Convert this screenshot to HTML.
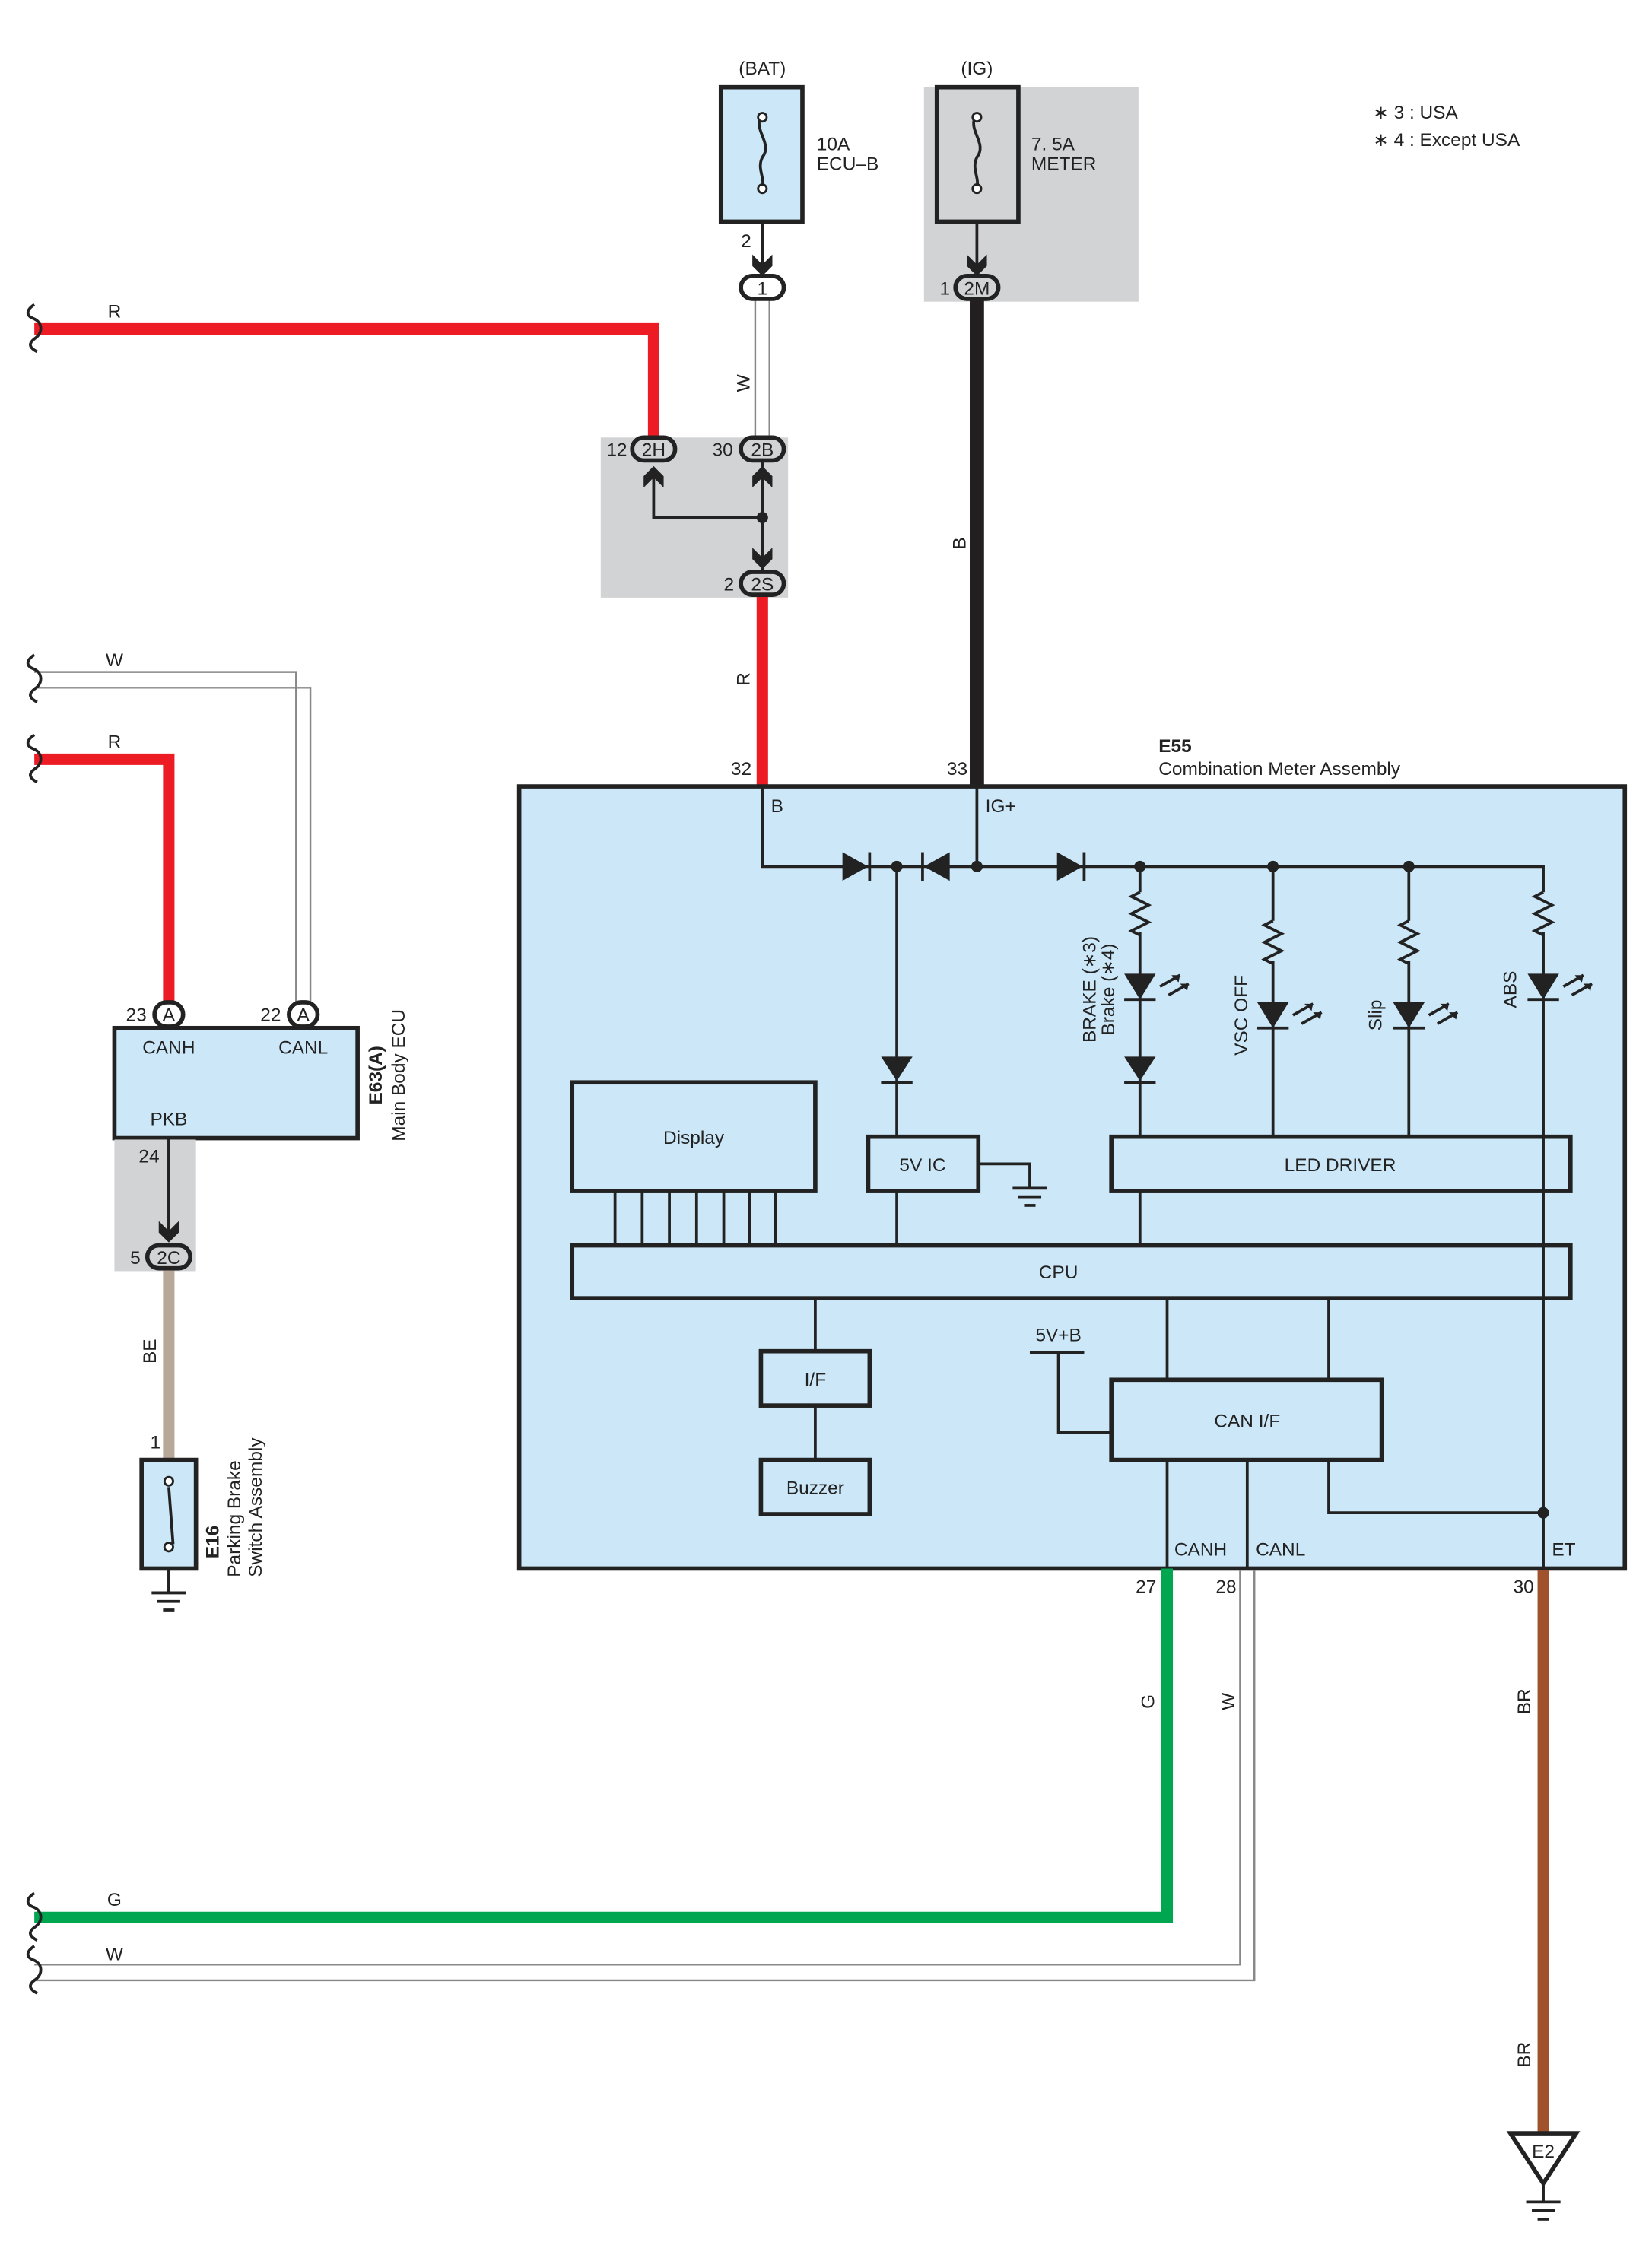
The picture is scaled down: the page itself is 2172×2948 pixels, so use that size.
<!DOCTYPE html>
<html><head><meta charset="utf-8"><style>
html,body{margin:0;padding:0;background:#fff}
svg{display:block}
text{font-family:"Liberation Sans",sans-serif;font-size:13px;fill:#222}
</style></head><body>
<svg width="2172" height="2948" viewBox="0 0 1155 1568" preserveAspectRatio="none" xmlns="http://www.w3.org/2000/svg">
<defs>
<g id="gnd"><line x1="-12" y1="0" x2="12" y2="0" stroke="#222" stroke-width="2"/><line x1="-8" y1="6" x2="8" y2="6" stroke="#222" stroke-width="2"/><line x1="-4" y1="12" x2="4" y2="12" stroke="#222" stroke-width="2"/></g>
<g id="ledR"><path d="M0,-28 l-6,3 l12,6 l-12,6 l12,6 l-12,6 l6,3" fill="none" stroke="#222" stroke-width="2"/></g>
<g id="led"><polygon points="-11,-9 11,-9 0,9" fill="#222"/><line x1="-11" y1="9" x2="11" y2="9" stroke="#222" stroke-width="2"/><path d="M14,0 l14,-8 M20,6 l14,-8" stroke="#222" stroke-width="2"/><polygon points="28,-8 22,-8 27,-3" fill="#222"/><polygon points="34,-2 28,-2 33,3" fill="#222"/></g>
<g id="wave"><path d="M0,-17 c-6,4 -6,8 0,10 c6,3 6,10 0,14 c-4,3 -4,6 2,9" fill="none" stroke="#222" stroke-width="2"/></g>
</defs>

<text x="960" y="83">∗ 3 : USA</text>
<text x="960" y="102">∗ 4 : Except USA</text>

<text x="533" y="52" text-anchor="middle">(BAT)</text>
<rect x="504" y="61" width="57" height="94" fill="#cce8f8" stroke="#222" stroke-width="3"/>
<path d="M533,80 c-8,10 8,20 0,30 c-4,8 2,14 0,22" fill="none" stroke="#222" stroke-width="2"/>
<circle cx="533" cy="82" r="3" fill="#fff" stroke="#222" stroke-width="1.5"/><circle cx="533" cy="132" r="3" fill="#fff" stroke="#222" stroke-width="1.5"/>
<text x="571" y="105">10A</text><text x="571" y="119">ECU–B</text>
<line x1="533" y1="155" x2="533" y2="192" stroke="#222" stroke-width="2"/>
<text x="518" y="173">2</text>
<path d="M526,178 l7,7 l7,-7 l0,8 l-7,7 l-7,-7z" fill="#222"/>
<line x1="528" y1="208" x2="528" y2="306" stroke="#888" stroke-width="1.3"/><line x1="538" y1="208" x2="538" y2="306" stroke="#888" stroke-width="1.3"/>
<rect x="518" y="193" width="30" height="16" rx="8" fill="#fff" stroke="#222" stroke-width="3"/>
<text x="533" y="206" text-anchor="middle">1</text>
<text transform="translate(524,268) rotate(-90)" text-anchor="middle">W</text>

<rect x="646" y="61" width="150" height="150" fill="#d2d3d5"/>
<text x="683" y="52" text-anchor="middle">(IG)</text>
<rect x="655" y="61" width="57" height="94" fill="#d2d3d5" stroke="#222" stroke-width="3"/>
<path d="M683,80 c-8,10 8,20 0,30 c-4,8 2,14 0,22" fill="none" stroke="#222" stroke-width="2"/>
<circle cx="683" cy="82" r="3" fill="#fff" stroke="#222" stroke-width="1.5"/><circle cx="683" cy="132" r="3" fill="#fff" stroke="#222" stroke-width="1.5"/>
<text x="721" y="105">7. 5A</text><text x="721" y="119">METER</text>
<line x1="683" y1="155" x2="683" y2="192" stroke="#222" stroke-width="2"/>
<path d="M676,178 l7,7 l7,-7 l0,8 l-7,7 l-7,-7z" fill="#222"/>
<line x1="683" y1="209" x2="683" y2="550" stroke="#231f20" stroke-width="10"/>
<rect x="668" y="193" width="30" height="16" rx="8" fill="#d2d3d5" stroke="#222" stroke-width="3"/>
<text x="683" y="206" text-anchor="middle">2M</text>
<text x="657" y="206">1</text>
<text transform="translate(675,380) rotate(-90)" text-anchor="middle">B</text>

<polyline points="24,230 457,230 457,306" fill="none" stroke="#ed1c24" stroke-width="8"/>
<use href="#wave" x="24" y="230"/>
<text x="80" y="222" text-anchor="middle">R</text>

<rect x="420" y="306" width="131" height="112" fill="#d2d3d5"/>
<polyline points="457,330 457,362 533,362" fill="none" stroke="#222" stroke-width="2"/>
<line x1="533" y1="320" x2="533" y2="400" stroke="#222" stroke-width="2"/>
<circle cx="533" cy="362" r="4" fill="#222"/>
<path d="M450,341 l7,-7 l7,7 l0,-8 l-7,-7 l-7,7z" fill="#222"/>
<path d="M526,341 l7,-7 l7,7 l0,-8 l-7,-7 l-7,7z" fill="#222"/>
<path d="M526,383 l7,7 l7,-7 l0,8 l-7,7 l-7,-7z" fill="#222"/>
<rect x="442" y="306" width="30" height="16" rx="8" fill="#d2d3d5" stroke="#222" stroke-width="3"/><text x="457" y="319" text-anchor="middle">2H</text>
<rect x="518" y="306" width="30" height="16" rx="8" fill="#d2d3d5" stroke="#222" stroke-width="3"/><text x="533" y="319" text-anchor="middle">2B</text>
<line x1="533" y1="416" x2="533" y2="550" stroke="#ed1c24" stroke-width="8"/>
<rect x="518" y="400" width="30" height="16" rx="8" fill="#d2d3d5" stroke="#222" stroke-width="3"/><text x="533" y="413" text-anchor="middle">2S</text>
<text x="424" y="319">12</text><text x="498" y="319">30</text><text x="506" y="413">2</text>
<text transform="translate(524,475) rotate(-90)" text-anchor="middle">R</text>
<text x="511" y="542">32</text><text x="662" y="542">33</text>
<text x="810" y="526" font-weight="bold">E55</text>
<text x="810" y="542">Combination Meter Assembly</text>

<rect x="363" y="550" width="773" height="547" fill="#cce8f8" stroke="#222" stroke-width="3"/>
<text x="539" y="568">B</text><text x="689" y="568">IG+</text>
<g stroke="#222" stroke-width="2" fill="none">
<polyline points="533,550 533,606 1079,606 1079,1097"/>
<line x1="683" y1="550" x2="683" y2="606"/>
<line x1="627" y1="606" x2="627" y2="795"/>
<line x1="797" y1="606" x2="797" y2="795"/>
<line x1="890" y1="606" x2="890" y2="795"/>
<line x1="985" y1="606" x2="985" y2="795"/>
<line x1="627" y1="833" x2="627" y2="871"/>
<line x1="797" y1="833" x2="797" y2="871"/>
<line x1="570" y1="908" x2="570" y2="945"/>
<line x1="570" y1="983" x2="570" y2="1021"/>
<line x1="816" y1="908" x2="816" y2="965"/>
<line x1="929" y1="908" x2="929" y2="965"/>
<line x1="816" y1="1021" x2="816" y2="1097"/>
<line x1="872" y1="1021" x2="872" y2="1097"/>
<polyline points="929,1021 929,1058 1079,1058"/>
<line x1="720" y1="946" x2="758" y2="946"/>
<polyline points="740,946 740,1002 777,1002"/>
<polyline points="684,814 720,814 720,830"/>
</g>
<use href="#gnd" x="720" y="831"/>
<polygon points="589,596 589,616 607,606" fill="#222"/><line x1="608" y1="596" x2="608" y2="616" stroke="#222" stroke-width="2"/>
<polygon points="664,596 664,616 646,606" fill="#222"/><line x1="645" y1="596" x2="645" y2="616" stroke="#222" stroke-width="2"/>
<polygon points="739,596 739,616 757,606" fill="#222"/><line x1="758" y1="596" x2="758" y2="616" stroke="#222" stroke-width="2"/>
<g fill="#222"><circle cx="627" cy="606" r="4"/><circle cx="683" cy="606" r="4"/><circle cx="797" cy="606" r="4"/><circle cx="890" cy="606" r="4"/><circle cx="985" cy="606" r="4"/><circle cx="1079" cy="1058" r="4"/></g>
<polygon points="616,739 638,739 627,756" fill="#222"/><line x1="616" y1="757" x2="638" y2="757" stroke="#222" stroke-width="2"/>
<polygon points="786,739 808,739 797,756" fill="#222"/><line x1="786" y1="757" x2="808" y2="757" stroke="#222" stroke-width="2"/>
<rect x="788" y="624" width="18" height="28" fill="#cce8f8"/><use href="#ledR" x="797" y="652"/>
<rect x="881" y="644" width="18" height="28" fill="#cce8f8"/><use href="#ledR" x="890" y="672"/>
<rect x="976" y="644" width="18" height="28" fill="#cce8f8"/><use href="#ledR" x="985" y="672"/>
<rect x="1070" y="624" width="18" height="28" fill="#cce8f8"/><use href="#ledR" x="1079" y="652"/>
<use href="#led" x="797" y="690"/><use href="#led" x="890" y="710"/><use href="#led" x="985" y="710"/><use href="#led" x="1079" y="690"/>
<text transform="translate(766,692) rotate(-90)" text-anchor="middle" font-size="12">BRAKE (∗3)</text>
<text transform="translate(779,692) rotate(-90)" text-anchor="middle" font-size="12">Brake (∗4)</text>
<text transform="translate(872,710) rotate(-90)" text-anchor="middle">VSC OFF</text>
<text transform="translate(966,710) rotate(-90)" text-anchor="middle">Slip</text>
<text transform="translate(1060,692) rotate(-90)" text-anchor="middle">ABS</text>
<g fill="none" stroke="#222" stroke-width="3">
<rect x="400" y="757" width="170" height="76"/>
<rect x="607" y="795" width="77" height="38"/>
<rect x="777" y="795" width="321" height="38"/>
<rect x="400" y="871" width="698" height="37"/>
<rect x="532" y="945" width="76" height="38"/>
<rect x="532" y="1021" width="76" height="38"/>
<rect x="777" y="965" width="189" height="56"/>
</g>
<g stroke="#222" stroke-width="2"><line x1="430" y1="833" x2="430" y2="871"/><line x1="449" y1="833" x2="449" y2="871"/><line x1="468" y1="833" x2="468" y2="871"/><line x1="487" y1="833" x2="487" y2="871"/><line x1="506" y1="833" x2="506" y2="871"/><line x1="524" y1="833" x2="524" y2="871"/><line x1="542" y1="833" x2="542" y2="871"/></g>
<text x="485" y="800" text-anchor="middle">Display</text>
<text x="645" y="819" text-anchor="middle">5V IC</text>
<text x="937" y="819" text-anchor="middle">LED DRIVER</text>
<text x="740" y="894" text-anchor="middle">CPU</text>
<text x="570" y="969" text-anchor="middle">I/F</text>
<text x="570" y="1045" text-anchor="middle">Buzzer</text>
<text x="872" y="998" text-anchor="middle">CAN I/F</text>
<text x="740" y="938" text-anchor="middle">5V+B</text>
<text x="821" y="1088">CANH</text><text x="878" y="1088">CANL</text><text x="1085" y="1088">ET</text>
<text x="794" y="1114">27</text><text x="850" y="1114">28</text><text x="1058" y="1114">30</text>

<polyline points="816,1097 816,1341 24,1341" fill="none" stroke="#00a650" stroke-width="8"/>
<use href="#wave" x="24" y="1341"/>
<polyline points="867,1098 867,1374 24,1374" fill="none" stroke="#888" stroke-width="1.3"/>
<polyline points="877,1098 877,1385 24,1385" fill="none" stroke="#888" stroke-width="1.3"/>
<use href="#wave" x="24" y="1378"/>
<text x="80" y="1333" text-anchor="middle">G</text><text x="80" y="1371" text-anchor="middle">W</text>
<text transform="translate(807,1190) rotate(-90)" text-anchor="middle">G</text>
<text transform="translate(863,1190) rotate(-90)" text-anchor="middle">W</text>
<line x1="1079" y1="1098" x2="1079" y2="1492" stroke="#a0522d" stroke-width="8"/>
<text transform="translate(1070,1190) rotate(-90)" text-anchor="middle">BR</text>
<text transform="translate(1070,1437) rotate(-90)" text-anchor="middle">BR</text>
<polygon points="1056,1492 1102,1492 1079,1527" fill="#fff" stroke="#222" stroke-width="3"/>
<text x="1079" y="1509" text-anchor="middle">E2</text>
<line x1="1079" y1="1527" x2="1079" y2="1540" stroke="#222" stroke-width="2"/>
<use href="#gnd" x="1079" y="1540"/>

<polyline points="24,470 207,470 207,701" fill="none" stroke="#888" stroke-width="1.3"/>
<polyline points="24,481 217,481 217,701" fill="none" stroke="#888" stroke-width="1.3"/>
<use href="#wave" x="24" y="475"/>
<text x="80" y="466" text-anchor="middle">W</text>
<polyline points="24,531 118,531 118,701" fill="none" stroke="#ed1c24" stroke-width="8"/>
<use href="#wave" x="24" y="531"/>
<text x="80" y="523" text-anchor="middle">R</text>
<rect x="80" y="719" width="170" height="77" fill="#cce8f8" stroke="#222" stroke-width="3"/>
<rect x="108" y="701" width="20" height="17" rx="8.5" fill="#fff" stroke="#222" stroke-width="3"/><text x="118" y="714" text-anchor="middle">A</text>
<rect x="202" y="701" width="20" height="17" rx="8.5" fill="#fff" stroke="#222" stroke-width="3"/><text x="212" y="714" text-anchor="middle">A</text>
<text x="88" y="714">23</text><text x="182" y="714">22</text>
<text x="118" y="737" text-anchor="middle">CANH</text><text x="212" y="737" text-anchor="middle">CANL</text><text x="118" y="787" text-anchor="middle">PKB</text>
<text transform="translate(267,752) rotate(-90)" text-anchor="middle" font-weight="bold">E63(A)</text>
<text transform="translate(283,752) rotate(-90)" text-anchor="middle">Main Body ECU</text>
<rect x="80" y="797" width="57" height="92" fill="#d2d3d5"/>
<text x="97" y="813">24</text>
<line x1="118" y1="796" x2="118" y2="868" stroke="#222" stroke-width="2"/>
<path d="M111,854 l7,7 l7,-7 l0,8 l-7,7 l-7,-7z" fill="#222"/>
<line x1="118" y1="887" x2="118" y2="1021" stroke="#b8a898" stroke-width="8"/>
<rect x="103" y="871" width="30" height="16" rx="8" fill="#d2d3d5" stroke="#222" stroke-width="3"/><text x="118" y="884" text-anchor="middle">2C</text>
<text x="91" y="884">5</text>
<text transform="translate(109,945) rotate(-90)" text-anchor="middle">BE</text>
<text x="105" y="1013">1</text>
<rect x="99" y="1021" width="38" height="76" fill="#cce8f8" stroke="#222" stroke-width="3"/>
<line x1="118" y1="1040" x2="121" y2="1080" stroke="#222" stroke-width="2"/>
<circle cx="118" cy="1036" r="3" fill="#fff" stroke="#222" stroke-width="1.5"/><circle cx="118" cy="1082" r="3" fill="#fff" stroke="#222" stroke-width="1.5"/>
<line x1="118" y1="1097" x2="118" y2="1114" stroke="#222" stroke-width="2"/>
<use href="#gnd" x="118" y="1114"/>
<text transform="translate(153,1090) rotate(-90)" font-weight="bold">E16</text>
<text transform="translate(168,1103) rotate(-90)">Parking Brake</text>
<text transform="translate(183,1103) rotate(-90)">Switch Assembly</text>
</svg>
</body></html>
